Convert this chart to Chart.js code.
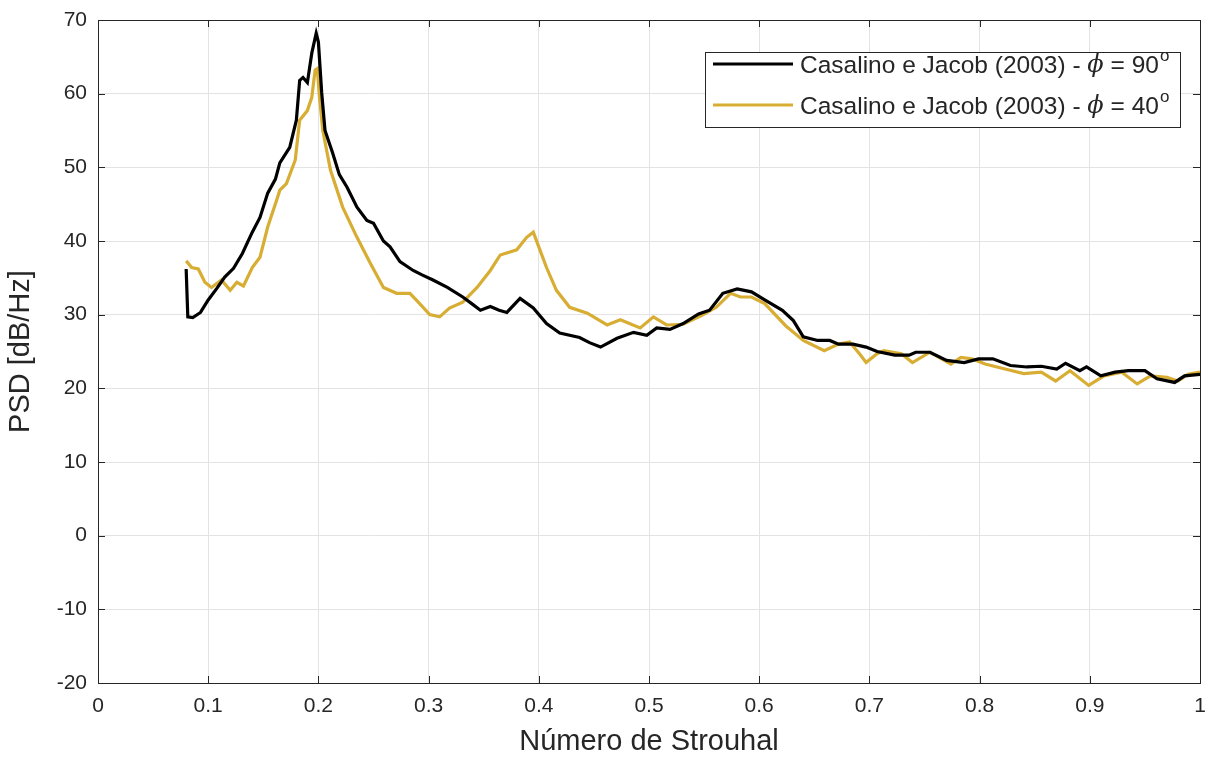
<!DOCTYPE html>
<html>
<head>
<meta charset="utf-8">
<script src="https://cdn.jsdelivr.net/npm/chart.js@4/dist/chart.umd.min.js"></script>
<style>
    html, body { margin: 0; padding: 0; background: #fff; }
    #wrap { width: 1206px; height: 763px; }
</style>
</head>
<body>
<div id="wrap"><canvas id="psdChart"></canvas></div>
<script>
// Número de Strouhal / PSD
const st90 = [0.080, 0.0815, 0.086, 0.093, 0.100, 0.108, 0.115, 0.123, 0.131, 0.140, 0.147, 0.154, 0.161, 0.165,
    0.174, 0.180, 0.183, 0.186, 0.190, 0.194, 0.198, 0.200, 0.203, 0.206, 0.213, 0.219, 0.226, 0.235, 0.244, 0.250,
    0.259, 0.265, 0.274, 0.286, 0.294, 0.304, 0.317, 0.331, 0.340, 0.347, 0.356, 0.364, 0.371, 0.383, 0.395, 0.407,
    0.419, 0.437, 0.446, 0.456, 0.471, 0.486, 0.498, 0.507, 0.519, 0.531, 0.545, 0.555, 0.567, 0.580, 0.593, 0.605,
    0.621, 0.631, 0.640, 0.653, 0.664, 0.672, 0.685, 0.697, 0.707, 0.723, 0.736, 0.742, 0.755, 0.770, 0.786, 0.799,
    0.812, 0.828, 0.843, 0.856, 0.870, 0.878, 0.891, 0.897, 0.910, 0.923, 0.935, 0.950, 0.961, 0.977, 0.986, 1.000];
const psd90 = [36.2, 29.7, 29.6, 30.3, 32.0, 33.6, 35.1, 36.3, 38.3, 41.2, 43.2, 46.5, 48.4, 50.6,
    52.7, 56.4, 61.8, 62.2, 61.5, 65.5, 68.2, 67.0, 60.1, 55.0, 51.9, 49.0, 47.3, 44.6, 42.8, 42.4,
    40.0, 39.2, 37.2, 36.0, 35.4, 34.7, 33.7, 32.4, 31.4, 30.6, 31.1, 30.6, 30.3, 32.2, 30.9, 28.8,
    27.5, 26.9, 26.2, 25.6, 26.8, 27.6, 27.2, 28.2, 28.0, 28.8, 30.1, 30.6, 32.9, 33.5, 33.1, 32.0,
    30.6, 29.2, 27.0, 26.5, 26.5, 26.0, 26.0, 25.6, 25.0, 24.5, 24.5, 24.9, 24.9, 23.8, 23.5, 24.0,
    24.0, 23.1, 22.9, 23.0, 22.6, 23.4, 22.4, 22.9, 21.7, 22.2, 22.4, 22.4, 21.3, 20.8, 21.7, 21.9];

const st40 = [0.080, 0.085, 0.091, 0.097, 0.103, 0.112, 0.120, 0.126, 0.132, 0.140, 0.147, 0.154, 0.162, 0.165,
    0.171, 0.179, 0.183, 0.190, 0.194, 0.197, 0.199, 0.201, 0.204, 0.211, 0.222, 0.235, 0.247, 0.259, 0.271, 0.283,
    0.290, 0.301, 0.310, 0.319, 0.331, 0.344, 0.356, 0.365, 0.380, 0.389, 0.395, 0.401, 0.407, 0.416, 0.428, 0.444,
    0.462, 0.474, 0.492, 0.504, 0.516, 0.531, 0.548, 0.561, 0.574, 0.583, 0.593, 0.605, 0.624, 0.640, 0.659, 0.672,
    0.682, 0.691, 0.697, 0.707, 0.713, 0.729, 0.739, 0.755, 0.774, 0.783, 0.793, 0.805, 0.824, 0.840, 0.856, 0.869,
    0.882, 0.899, 0.913, 0.929, 0.943, 0.955, 0.970, 0.980, 0.989, 1.000];
const psd40 = [37.3, 36.4, 36.2, 34.4, 33.7, 34.7, 33.3, 34.4, 33.9, 36.4, 37.8, 41.9, 45.5, 46.9,
    47.8, 51.0, 56.4, 57.7, 59.5, 63.2, 63.4, 59.5, 55.0, 49.6, 44.6, 40.5, 37.0, 33.7, 32.9, 32.9,
    31.8, 30.0, 29.7, 30.9, 31.7, 33.7, 36.0, 38.1, 38.8, 40.5, 41.2, 38.8, 36.4, 33.3, 31.0, 30.2,
    28.6, 29.3, 28.2, 29.7, 28.6, 28.7, 29.9, 31.0, 32.9, 32.4, 32.4, 31.5, 28.5, 26.5, 25.1, 26.0,
    26.3, 24.7, 23.5, 24.7, 25.1, 24.7, 23.5, 24.9, 23.3, 24.2, 24.0, 23.3, 22.6, 22.0, 22.2, 21.0,
    22.4, 20.4, 21.7, 22.2, 20.6, 21.7, 21.5, 21.0, 21.9, 22.2];

const xTicks = [0, 0.1, 0.2, 0.3, 0.4, 0.5, 0.6, 0.7, 0.8, 0.9, 1];
const yTicks = [-20, -10, 0, 10, 20, 30, 40, 50, 60, 70];

const seriesNames = ['Casalino e Jacob (2003) - ', 'Casalino e Jacob (2003) - '];
const seriesAngles = ['90', '40'];
const seriesColors = ['#000000', '#D8AD33'];

const FONT = "'Liberation Sans', Arial, Helvetica, sans-serif";
const AXIS_COLOR = '#262626';

function toPoints(xs, ys) {
    return xs.map((x, i) => ({ x: x, y: ys[i] }));
}

// Caixa dos eixos + marcas de escala para dentro (estilo MATLAB)
const boxTicks = {
    id: 'boxTicks',
    afterDatasetsDraw(chart) {
        const { ctx, chartArea: a, scales } = chart;
        const len = 7;
        ctx.save();
        ctx.strokeStyle = AXIS_COLOR;
        ctx.lineWidth = 1;
        ctx.beginPath();
        xTicks.forEach(v => {
            const px = Math.round(scales.x.getPixelForValue(v)) + 0.5;
            ctx.moveTo(px, a.bottom); ctx.lineTo(px, a.bottom - len);
            ctx.moveTo(px, a.top); ctx.lineTo(px, a.top + len);
        });
        yTicks.forEach(v => {
            const py = Math.round(scales.y.getPixelForValue(v)) + 0.5;
            ctx.moveTo(a.left, py); ctx.lineTo(a.left + len, py);
            ctx.moveTo(a.right, py); ctx.lineTo(a.right - len, py);
        });
        ctx.stroke();
        ctx.strokeRect(Math.round(a.left) + 0.5, Math.round(a.top) + 0.5,
            Math.round(a.right - a.left), Math.round(a.bottom - a.top));
        ctx.restore();
    }
};

// Legenda desenhada à mão (phi em itálico, grau sobrescrito)
const customLegend = {
    id: 'customLegend',
    afterDraw(chart) {
        const { ctx, chartArea: a } = chart;
        const boxW = 475, boxH = 75;
        const left = a.right - 20 - boxW;
        const top = a.top + 32;
        ctx.save();
        ctx.fillStyle = '#fff';
        ctx.fillRect(left, top, boxW, boxH);
        ctx.strokeStyle = AXIS_COLOR;
        ctx.lineWidth = 1;
        ctx.strokeRect(Math.round(left) + 0.5, Math.round(top) + 0.5, boxW, boxH);

        ctx.textBaseline = 'middle';
        seriesNames.forEach((name, i) => {
            const y = top + 12 + i * 41;
            ctx.strokeStyle = seriesColors[i];
            ctx.lineWidth = 3;
            ctx.beginPath();
            ctx.moveTo(left + 8, y);
            ctx.lineTo(left + 88, y);
            ctx.stroke();

            let x = left + 95;
            ctx.fillStyle = AXIS_COLOR;
            ctx.font = '24.5px ' + FONT;
            ctx.fillText(name, x, y + 2);
            x += ctx.measureText(name).width;
            ctx.font = "italic 24px 'DejaVu Serif', serif";
            ctx.fillText('\u03D5', x, y + 2);
            x += ctx.measureText('\u03D5').width;
            ctx.font = '24.5px ' + FONT;
            const rest = ' = ' + seriesAngles[i];
            ctx.fillText(rest, x, y + 2);
            x += ctx.measureText(rest).width;
            ctx.font = '17px ' + FONT;
            ctx.fillText('o', x + 1, y - 8);
        });
        ctx.restore();
    }
};

const ctx = document.getElementById('psdChart');

new Chart(ctx, {
    type: 'line',
    data: {
        datasets: [
            {
                label: seriesNames[0] + 'phi = ' + seriesAngles[0],
                data: toPoints(st90, psd90),
                borderColor: seriesColors[0],
                borderWidth: 3.2,
                pointRadius: 0,
                tension: 0,
                fill: false
            },
            {
                label: seriesNames[1] + 'phi = ' + seriesAngles[1],
                data: toPoints(st40, psd40),
                borderColor: seriesColors[1],
                borderWidth: 3.2,
                pointRadius: 0,
                tension: 0,
                fill: false
            }
        ]
    },
    options: {
        responsive: true,
        maintainAspectRatio: false,
        animation: false,
        layout: { padding: { top: 20, right: 6, left: 0, bottom: 0 } },
        plugins: {
            legend: { display: false },
            tooltip: { enabled: false }
        },
        scales: {
            x: {
                type: 'linear',
                min: 0,
                max: 1,
                afterBuildTicks: axis => { axis.ticks = xTicks.map(v => ({ value: v })); },
                afterFit: axis => {
                    axis.height = 80;
                    axis.paddingLeft = 0;
                    axis.paddingRight = 0;
                },
                grid: { color: '#e3e3e3', drawTicks: false },
                border: { display: false },
                ticks: {
                    padding: 11,
                    color: AXIS_COLOR,
                    font: { family: FONT, size: 21 },
                    callback: v => String(Math.round(v * 10) / 10)
                },
                title: {
                    display: true,
                    text: 'Número de Strouhal',
                    color: AXIS_COLOR,
                    font: { family: FONT, size: 29 },
                    padding: { top: 0 }
                }
            },
            y: {
                type: 'linear',
                min: -20,
                max: 70,
                afterBuildTicks: axis => { axis.ticks = yTicks.map(v => ({ value: v })); },
                afterFit: axis => {
                    axis.width = 98;
                    axis.paddingTop = 0;
                    axis.paddingBottom = 0;
                },
                grid: { color: '#e3e3e3', drawTicks: false },
                border: { display: false },
                ticks: {
                    padding: 11,
                    color: AXIS_COLOR,
                    font: { family: FONT, size: 21 }
                },
                title: {
                    display: true,
                    text: 'PSD [dB/Hz]',
                    color: AXIS_COLOR,
                    font: { family: FONT, size: 29 },
                    padding: { bottom: 0 }
                }
            }
        }
    },
    plugins: [boxTicks, customLegend]
});
</script>
</body>
</html>
